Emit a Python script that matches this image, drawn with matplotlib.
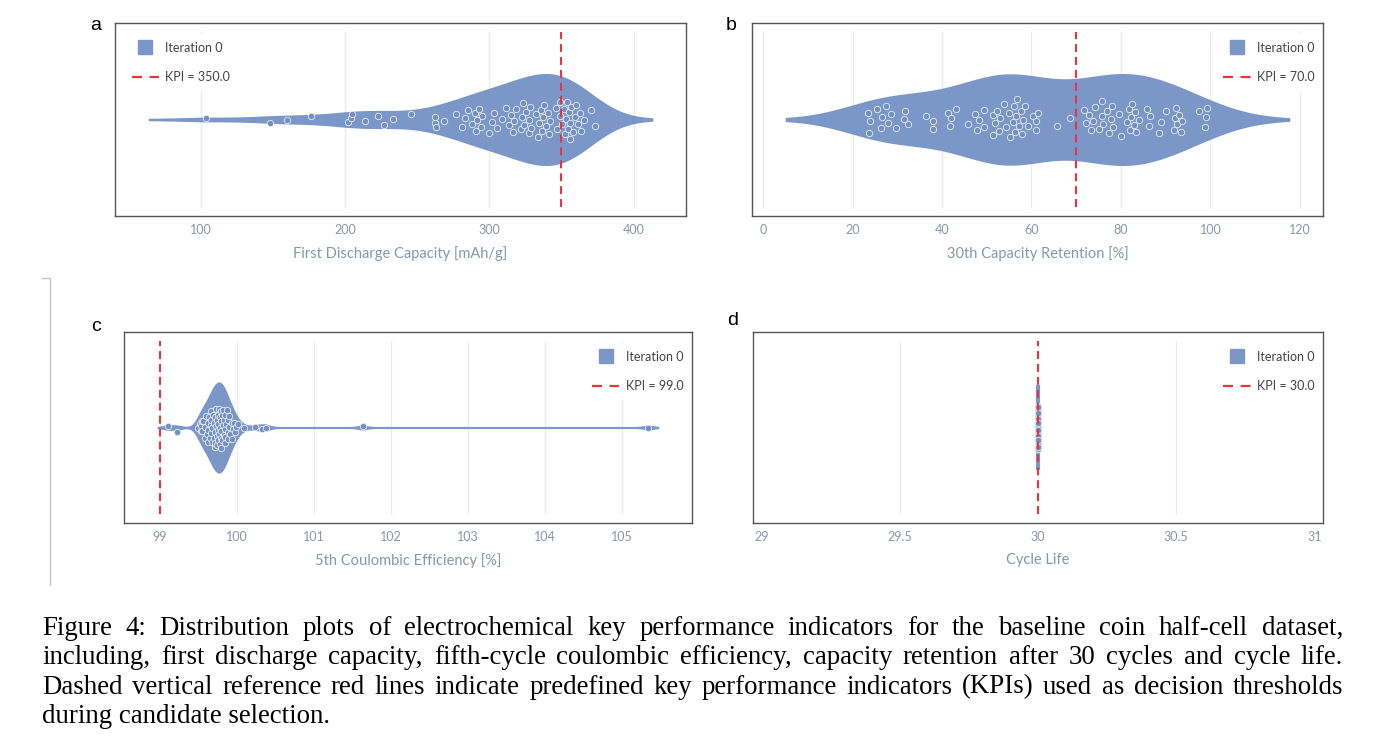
import numpy as np
import matplotlib
matplotlib.use("Agg")
import matplotlib.pyplot as plt
from matplotlib.lines import Line2D
from matplotlib.ticker import FuncFormatter
import seaborn as sns

# values (one entry per coin cell)
first_discharge = [
    103.5, 147.6, 159.4, 176.5, 201.9, 203.7, 204.7, 214.0, 222.6, 227.0,
    233.1, 245.9, 262.0, 262.5, 262.7, 268.3, 276.9, 280.7, 283.0, 285.3,
    288.1, 290.0, 290.4, 291.6, 292.8, 293.9, 294.6, 299.8, 302.1, 303.3,
    305.6, 309.1, 311.4, 313.8, 314.9, 316.6, 317.2, 318.4, 321.9, 322.6,
    323.1, 324.2, 325.4, 327.3, 327.7, 328.4, 328.9, 332.4, 333.6, 334.7,
    335.9, 336.6, 337.1, 338.2, 339.4, 340.6, 341.7, 342.2, 346.4, 346.9,
    348.7, 349.2, 350.6, 351.5, 352.2, 353.4, 353.8, 354.5, 355.2, 355.7,
    356.2, 356.9, 358.0, 359.2, 360.4, 361.5, 362.7, 363.9, 365.5, 370.2,
    373.2,
]
retention_30 = [
    23.5, 23.6, 23.8, 25.4, 26.3, 26.5, 27.5, 28.0, 28.7, 29.7,
    31.5, 31.8, 32.3, 36.4, 37.9, 38.1, 41.3, 41.9, 42.1, 43.2,
    45.9, 47.4, 47.8, 48.3, 49.3, 49.4, 51.3, 51.5, 51.9, 52.4,
    52.8, 53.0, 53.9, 54.3, 54.9, 55.3, 55.8, 56.0, 56.4, 56.6,
    56.8, 57.2, 57.7, 57.9, 58.2, 58.5, 59.3, 60.3, 61.0, 61.1,
    61.5, 65.7, 68.7, 71.7, 72.3, 72.8, 73.4, 73.8, 74.1, 75.1,
    75.7, 75.8, 76.0, 76.8, 77.4, 77.7, 77.9, 78.3, 79.6, 80.0,
    81.3, 81.7, 82.1, 82.3, 82.4, 83.0, 83.2, 83.4, 84.0, 85.8,
    86.2, 86.6, 88.5, 88.9, 90.0, 91.9, 92.1, 92.2, 92.6, 93.0,
    93.4, 93.6, 97.4, 98.7, 99.0, 99.2,
]
coulombic_5 = [
    99.10, 99.22, 99.50, 99.52, 99.53, 99.54, 99.55, 99.55, 99.56, 99.58,
    99.59, 99.60, 99.61, 99.62, 99.63, 99.63, 99.64, 99.65, 99.66, 99.66,
    99.67, 99.67, 99.68, 99.68, 99.69, 99.70, 99.70, 99.71, 99.71, 99.72,
    99.72, 99.73, 99.73, 99.74, 99.74, 99.74, 99.75, 99.75, 99.76, 99.76,
    99.77, 99.77, 99.78, 99.78, 99.78, 99.79, 99.79, 99.79, 99.80, 99.80,
    99.81, 99.81, 99.82, 99.82, 99.83, 99.83, 99.84, 99.84, 99.85, 99.85,
    99.86, 99.87, 99.88, 99.88, 99.89, 99.90, 99.90, 99.91, 99.93, 99.93,
    99.95, 99.96, 99.97, 99.99, 100.02, 100.09, 100.23, 100.33, 100.38, 101.63,
    105.34,
]
cycle_life = [30.0] * 96  # every cell of the baseline set sits at 30 cycles

kpis = [350.0, 70.0, 99.0, 30.0]
x_titles = ["First Discharge Capacity [mAh/g]", "30th Capacity Retention [%]",
            "5th Coulombic Efficiency [%]", "Cycle Life"]
tags = ["a", "b", "c", "d"]
tick_sets = [[100, 200, 300, 400], [0, 20, 40, 60, 80, 100, 120],
             [99, 100, 101, 102, 103, 104, 105], [29, 29.5, 30, 30.5, 31]]

caption = [
    "Figure 4:  Distribution plots of electrochemical key performance indicators for the baseline coin half-cell dataset,",
    "including, first discharge capacity, fifth-cycle coulombic efficiency, capacity retention after 30 cycles and cycle life.",
    "Dashed vertical reference red lines indicate predefined key performance indicators (KPIs) used as decision thresholds",
    "during candidate selection.",
]

VIOLIN = "#7b97c7"
DOT = "#7290c2"
KPI_RED = "#e8343f"
TICK_GREY = "#8d94a8"
W, H = 1386, 744

plt.rcParams["font.family"] = ["Lato", "DejaVu Sans"]


def plotly_bw(vals):
    sd = vals.std(ddof=1)
    q1, q3 = np.percentile(vals, [25, 75])
    return 1.059 * min(sd, (q3 - q1) / 1.349) * len(vals) ** -0.2


def jitter_offsets(vals, half=0.115):
    # plotly-style: spread scales with local point density (+-5 neighbours)
    v = np.sort(vals)
    n = len(v)
    dens = np.ones(n)
    if v[-1] > v[0]:
        for i in range(n):
            lo, hi = max(0, i - 5), min(n - 1, i + 5)
            dens[i] = (hi - lo) / (v[hi] - v[lo] + 1e-9 * (v[-1] - v[0]))
        dens = np.sqrt(dens / dens.max())
    seq = 2 * ((np.arange(n) * 0.6180339887 + 0.31) % 1.0) - 1
    return v, half * dens * seq


def px_axes(fig, left, top, right, bottom):
    return fig.add_axes([left / W, 1 - bottom / H, (right - left) / W, (bottom - top) / H])


def draw_panel(ax, vals, kpi, title, ticks, legend_loc, grid_edges=True):
    vals = np.asarray(vals, float)
    if vals.std() > 0:
        bw = plotly_bw(vals)
        sns.violinplot(x=vals, orient="h", ax=ax, color=VIOLIN, saturation=1,
                       inner=None, cut=2, bw_method=bw / vals.std(ddof=1),
                       gridsize=1500, width=0.466, density_norm="width",
                       linewidth=1.5, linecolor=VIOLIN)
        lo, hi = vals.min() - 2 * bw, vals.max() + 2 * bw
        pad = 0.068 * (hi - lo)
        ax.set_xlim(lo - pad, hi + pad)
    else:
        # zero spread: plotly collapses the violin to a vertical bar
        ax.vlines(np.unique(vals), -0.22, 0.22, color=VIOLIN, lw=3, zorder=2)
        ax.set_xlim(vals[0] - 1.031, vals[0] + 1.031)

    xs, ys = jitter_offsets(vals)
    ax.scatter(xs, ys, s=21, facecolor=DOT, edgecolor="#e9edf4",
               linewidth=0.6, zorder=3)

    ax.set_ylim(0.5, -0.5)
    ax.set_yticks([])
    ax.set_ylabel("")
    ax.set_xticks(ticks)
    ax.xaxis.set_major_formatter(FuncFormatter(lambda v, _: f"{v:g}"))
    ax.tick_params(axis="x", length=0, pad=6, labelsize=9, labelcolor=TICK_GREY)
    ax.set_xlabel(title, fontsize=10.5, color=TICK_GREY, labelpad=7)
    for t in ticks:
        if not grid_edges and (t == ticks[0] or t == ticks[-1]):
            continue
        ax.axvline(t, ymin=0.047, ymax=0.953, color="#ececec", lw=1, zorder=0)
    ax.axvline(kpi, ymin=0.047, ymax=0.953, color=KPI_RED, lw=1.5,
               dashes=(3.8, 2.4), zorder=5)
    for sp in ax.spines.values():
        sp.set_color("#555555")
        sp.set_linewidth(1.0)

    handles = [
        Line2D([], [], marker="s", ls="none", markersize=10.5,
               markerfacecolor=VIOLIN, markeredgecolor=VIOLIN, label="Iteration 0"),
        Line2D([], [], color=KPI_RED, lw=1.6, dashes=(4.5, 3.4),
               label=f"KPI = {kpi:.1f}"),
    ]
    anchor = (0.005, 0.975) if legend_loc == "upper left" else (1.009, 0.975)
    leg = ax.legend(handles=handles, loc=legend_loc, bbox_to_anchor=anchor,
                    fontsize=9, frameon=True, facecolor="white", edgecolor="none",
                    framealpha=1, handlelength=2.2, handletextpad=0.5,
                    labelspacing=1.4, borderpad=0.6, borderaxespad=0.5)
    leg.set_zorder(6)
    for txt in leg.get_texts():
        txt.set_color("#444444")


fig = plt.figure(figsize=(W / 100, H / 100), dpi=100)
boxes = [(115, 23, 686, 216), (752, 23, 1323, 216),
         (124, 332, 692, 523), (753, 332, 1323, 523)]
data_sets = [first_discharge, retention_30, coulombic_5, cycle_life]
locs = ["upper left", "upper right", "upper right", "upper right"]
tag_xy = [(96, 25), (731, 25), (96, 327), (733, 320)]

for i in range(4):
    ax = px_axes(fig, *boxes[i])
    draw_panel(ax, data_sets[i], kpis[i], x_titles[i], tick_sets[i], locs[i],
               grid_edges=(i != 3))
    fig.text(tag_xy[i][0] / W, 1 - tag_xy[i][1] / H, tags[i], fontsize=14,
             family="Liberation Sans", ha="center", va="center")

# thin page rule at the left of the lower row
fig.add_artist(Line2D([42 / W, 50 / W, 50 / W],
                      [1 - 278 / H, 1 - 278 / H, 1 - 585 / H],
                      color="#c4c4c4", lw=1))

# caption, justified like the LaTeX source (last line ragged)
renderer = fig.canvas.get_renderer()
cap_left, cap_right = 42, 1343
cap_kw = dict(fontsize=19.4, family="Liberation Serif", ha="left", va="baseline")
for k, line in enumerate(caption):
    y = 1 - (635 + 29.3 * k) / H
    if k == len(caption) - 1:
        fig.text(cap_left / W, y, line, **cap_kw)
        continue
    words = line.replace("  ", " ").split(" ")
    pieces = [fig.text(0, y, w_, **cap_kw) for w_ in words]
    widths = [p.get_window_extent(renderer).width for p in pieces]
    gap = (cap_right - cap_left - sum(widths)) / (len(words) - 1)
    x = cap_left
    for p, wd in zip(pieces, widths):
        p.set_x(x / W)
        x += wd + gap

fig.savefig("out.png", dpi=100)
